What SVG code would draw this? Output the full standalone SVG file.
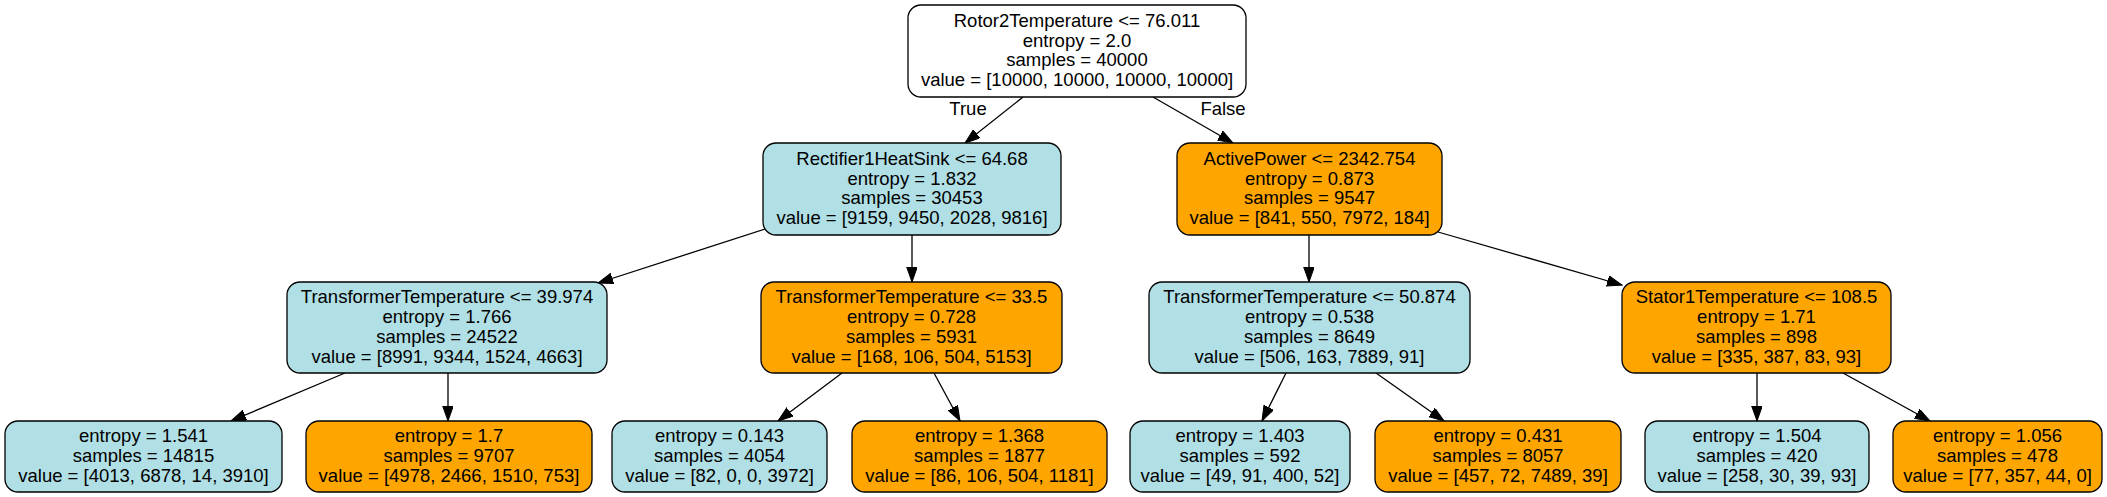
<svg xmlns="http://www.w3.org/2000/svg" width="2107" height="497" viewBox="0 0 2107 497">
<style>
.n rect{stroke:#000;stroke-width:1.3}
.b rect{fill:#b0dfe5}
.o rect{fill:#ffa500}
.w rect{fill:#ffffff}
text{font-family:"Liberation Sans",Arial,Helvetica,sans-serif;font-size:18.5px;fill:#000;text-anchor:middle}
.e{stroke:#000;stroke-width:1.3;fill:none;marker-end:url(#arr)}
</style>
<defs>
<marker id="arr" markerUnits="userSpaceOnUse" markerWidth="16" markerHeight="12" refX="15" refY="5.3" orient="auto">
<path d="M0,0 L15,5.3 L0,10.6 z" fill="#000" stroke="#000" stroke-width="1"/>
</marker>
</defs>
<rect width="2107" height="497" fill="#fff"/>
<g id="connectors">
<line class="e" x1="1023" y1="97" x2="965" y2="143"/>
<line class="e" x1="1153" y1="97" x2="1233" y2="143"/>
<line class="e" x1="765" y1="229" x2="598" y2="283"/>
<line class="e" x1="912" y1="235" x2="912" y2="282"/>
<line class="e" x1="1309" y1="235" x2="1309" y2="282"/>
<line class="e" x1="1438" y1="232" x2="1622" y2="285"/>
<line class="e" x1="345" y1="373" x2="231" y2="421"/>
<line class="e" x1="448" y1="373" x2="448" y2="421"/>
<line class="e" x1="842" y1="373" x2="778" y2="421"/>
<line class="e" x1="934" y1="373" x2="960" y2="421"/>
<line class="e" x1="1286" y1="373" x2="1262" y2="421"/>
<line class="e" x1="1376" y1="373" x2="1444" y2="421"/>
<line class="e" x1="1757" y1="373" x2="1757" y2="421"/>
<line class="e" x1="1843" y1="373" x2="1930" y2="421"/>
<text x="968" y="115">True</text>
<text x="1223" y="115">False</text>
</g>
<g id="n0" class="n w">
<rect x="908" y="5" width="338" height="92" rx="13"/>
<text x="1077" y="26.8">Rotor2Temperature &lt;= 76.011</text>
<text x="1077" y="46.6">entropy = 2.0</text>
<text x="1077" y="66.4">samples = 40000</text>
<text x="1077" y="86.2">value = [10000, 10000, 10000, 10000]</text>
</g>
<g id="n1" class="n b">
<rect x="763" y="143" width="298" height="92" rx="13"/>
<text x="912" y="164.8">Rectifier1HeatSink &lt;= 64.68</text>
<text x="912" y="184.6">entropy = 1.832</text>
<text x="912" y="204.4">samples = 30453</text>
<text x="912" y="224.2">value = [9159, 9450, 2028, 9816]</text>
</g>
<g id="n2" class="n o">
<rect x="1177" y="143" width="265" height="92" rx="13"/>
<text x="1309.5" y="164.8">ActivePower &lt;= 2342.754</text>
<text x="1309.5" y="184.6">entropy = 0.873</text>
<text x="1309.5" y="204.4">samples = 9547</text>
<text x="1309.5" y="224.2">value = [841, 550, 7972, 184]</text>
</g>
<g id="n3" class="n b">
<rect x="287" y="282" width="320" height="91" rx="13"/>
<text x="447" y="303.3">TransformerTemperature &lt;= 39.974</text>
<text x="447" y="323.1">entropy = 1.766</text>
<text x="447" y="342.9">samples = 24522</text>
<text x="447" y="362.7">value = [8991, 9344, 1524, 4663]</text>
</g>
<g id="n4" class="n o">
<rect x="761" y="282" width="301" height="91" rx="13"/>
<text x="911.5" y="303.3">TransformerTemperature &lt;= 33.5</text>
<text x="911.5" y="323.1">entropy = 0.728</text>
<text x="911.5" y="342.9">samples = 5931</text>
<text x="911.5" y="362.7">value = [168, 106, 504, 5153]</text>
</g>
<g id="n5" class="n b">
<rect x="1149" y="282" width="321" height="91" rx="13"/>
<text x="1309.5" y="303.3">TransformerTemperature &lt;= 50.874</text>
<text x="1309.5" y="323.1">entropy = 0.538</text>
<text x="1309.5" y="342.9">samples = 8649</text>
<text x="1309.5" y="362.7">value = [506, 163, 7889, 91]</text>
</g>
<g id="n6" class="n o">
<rect x="1622" y="282" width="269" height="91" rx="13"/>
<text x="1756.5" y="303.3">Stator1Temperature &lt;= 108.5</text>
<text x="1756.5" y="323.1">entropy = 1.71</text>
<text x="1756.5" y="342.9">samples = 898</text>
<text x="1756.5" y="362.7">value = [335, 387, 83, 93]</text>
</g>
<g id="l1" class="n b">
<rect x="5" y="421" width="277" height="71" rx="13"/>
<text x="143.5" y="442.2">entropy = 1.541</text>
<text x="143.5" y="462">samples = 14815</text>
<text x="143.5" y="481.8">value = [4013, 6878, 14, 3910]</text>
</g>
<g id="l2" class="n o">
<rect x="306" y="421" width="286" height="71" rx="13"/>
<text x="449" y="442.2">entropy = 1.7</text>
<text x="449" y="462">samples = 9707</text>
<text x="449" y="481.8">value = [4978, 2466, 1510, 753]</text>
</g>
<g id="l3" class="n b">
<rect x="612" y="421" width="215" height="71" rx="13"/>
<text x="719.5" y="442.2">entropy = 0.143</text>
<text x="719.5" y="462">samples = 4054</text>
<text x="719.5" y="481.8">value = [82, 0, 0, 3972]</text>
</g>
<g id="l4" class="n o">
<rect x="852" y="421" width="255" height="71" rx="13"/>
<text x="979.5" y="442.2">entropy = 1.368</text>
<text x="979.5" y="462">samples = 1877</text>
<text x="979.5" y="481.8">value = [86, 106, 504, 1181]</text>
</g>
<g id="l5" class="n b">
<rect x="1130" y="421" width="220" height="71" rx="13"/>
<text x="1240" y="442.2">entropy = 1.403</text>
<text x="1240" y="462">samples = 592</text>
<text x="1240" y="481.8">value = [49, 91, 400, 52]</text>
</g>
<g id="l6" class="n o">
<rect x="1375" y="421" width="246" height="71" rx="13"/>
<text x="1498" y="442.2">entropy = 0.431</text>
<text x="1498" y="462">samples = 8057</text>
<text x="1498" y="481.8">value = [457, 72, 7489, 39]</text>
</g>
<g id="l7" class="n b">
<rect x="1645" y="421" width="224" height="71" rx="13"/>
<text x="1757" y="442.2">entropy = 1.504</text>
<text x="1757" y="462">samples = 420</text>
<text x="1757" y="481.8">value = [258, 30, 39, 93]</text>
</g>
<g id="l8" class="n o">
<rect x="1893" y="421" width="209" height="71" rx="13"/>
<text x="1997.5" y="442.2">entropy = 1.056</text>
<text x="1997.5" y="462">samples = 478</text>
<text x="1997.5" y="481.8">value = [77, 357, 44, 0]</text>
</g>
</svg>
